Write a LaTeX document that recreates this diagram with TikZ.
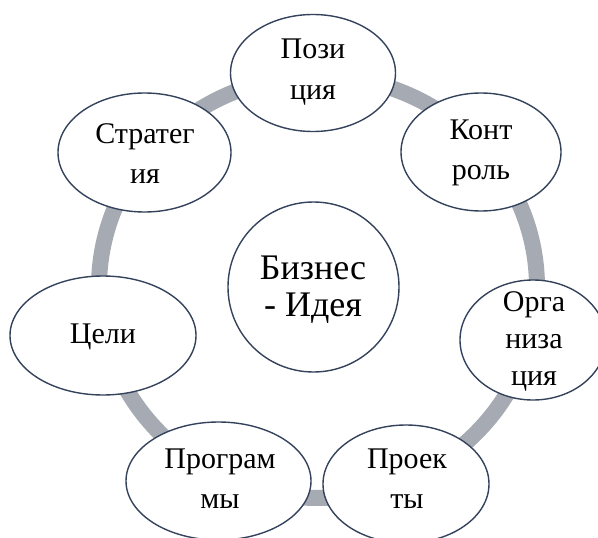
\documentclass[tikz,border=0pt]{standalone}
\usepackage{fontspec}
\setmainfont{Liberation Serif}
\usetikzlibrary{shapes.geometric}
\definecolor{ringgrey}{RGB}{166,170,178}
\definecolor{edge}{RGB}{52,66,92}
\begin{document}
\begin{tikzpicture}[x=1pt,y=-1pt,
  bub/.style={ellipse,draw=edge,line width=1.4pt,fill=white,inner sep=0pt},
  txt/.style={align=center,font=\fontsize{30}{40.5}\selectfont,inner sep=0pt},
  bigtxt/.style={align=center,font=\fontsize{36}{37}\selectfont,inner sep=0pt}]
\useasboundingbox (0,0) rectangle (598,538);
\clip (0,0) rectangle (598,538);
\fill[white] (0,0) rectangle (598,538);
\draw[ringgrey,line width=16pt] (318,287) ellipse [x radius=219,y radius=211];
\node[bub,minimum width=165pt,minimum height=117pt] (poz) at (313,73) {};
\node[bub,minimum width=160pt,minimum height=118pt] (kon) at (481,152) {};
\node[bub,minimum width=146pt,minimum height=120pt] (org) at (533,340) {};
\node[bub,minimum width=166pt,minimum height=118pt] (pro) at (406,484) {};
\node[bub,minimum width=185pt,minimum height=118pt] (prg) at (218.5,481) {};
\node[bub,minimum width=186pt,minimum height=119pt] (cel) at (103,335.5) {};
\node[bub,minimum width=173pt,minimum height=119pt] (str) at (144.5,152.5) {};
\node[bub,minimum width=171pt,minimum height=170pt] (biz) at (313.5,287) {};
\node[txt] (tpoz) at (313,72) {Пози\\ция};
\node[txt] (tkon) at (481,153) {Конт\\роль};
\node[txt,font=\fontsize{30}{37}\selectfont] (torg) at (534,341) {Орга\\низа\\ция};
\node[txt] (tpro) at (407,478.5) {Проек\\ты};
\node[txt] (tprg) at (220,478.5) {Програм\\мы};
\node[txt] (tcel) at (103,337) {Цели};
\node[txt] (tstr) at (145,153.5) {Стратег\\ия};
\node[bigtxt] (tbiz) at (313,290) {Бизнес\\- Идея};
\end{tikzpicture}
\end{document}
